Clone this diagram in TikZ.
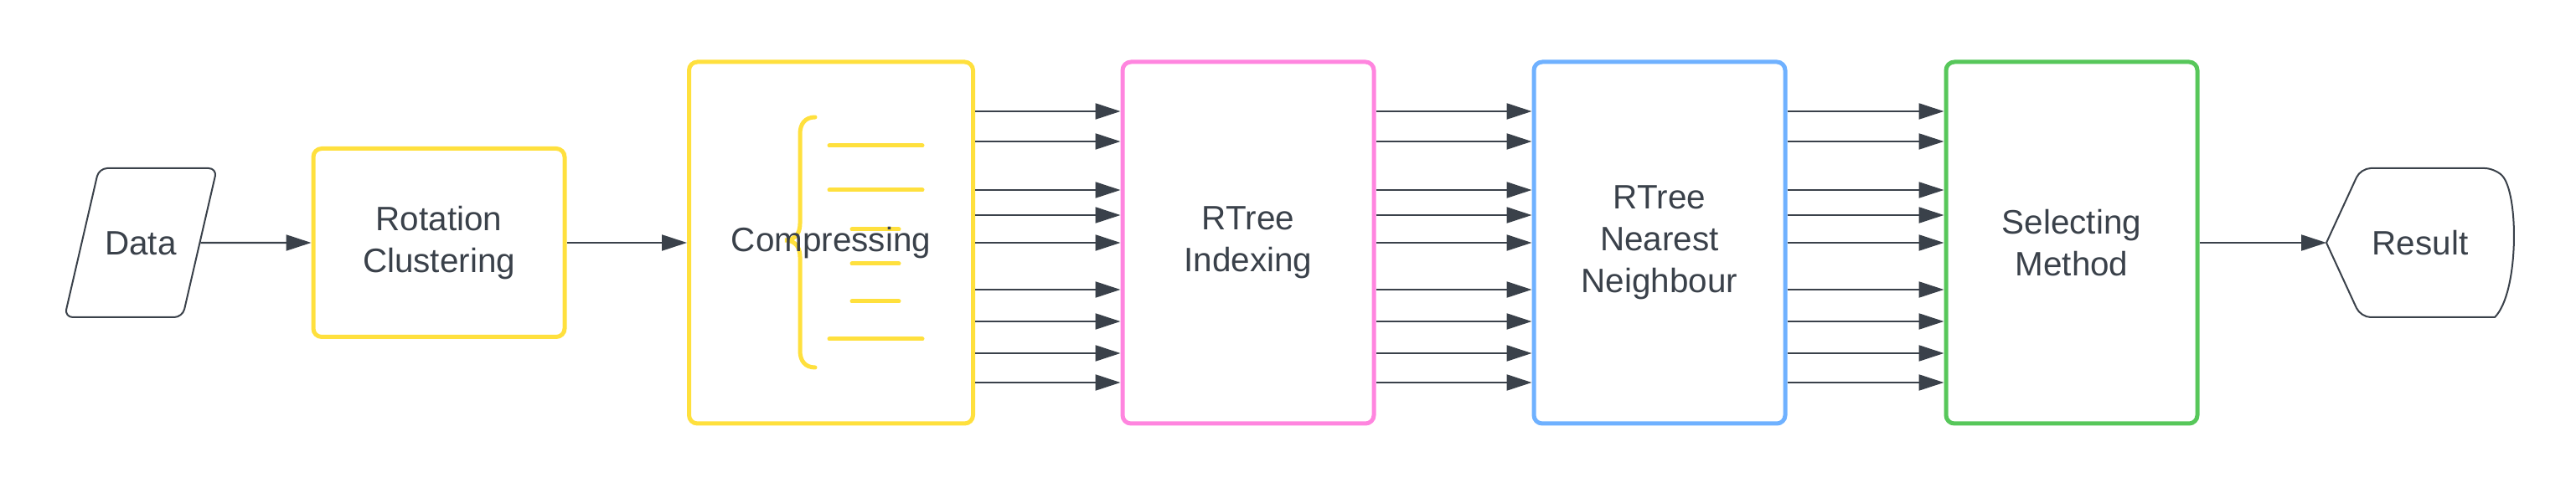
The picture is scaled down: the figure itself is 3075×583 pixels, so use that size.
\documentclass[tikz,border=0pt]{standalone}
\usepackage{fontspec}
\setmainfont{Liberation Sans}
\usetikzlibrary{arrows.meta,shapes.geometric}
\definecolor{ink}{HTML}{3A414A}
\definecolor{lyellow}{HTML}{FFE03D}
\definecolor{lpink}{HTML}{FF85DF}
\definecolor{lblue}{HTML}{6FB1FF}
\definecolor{lgreen}{HTML}{57C75A}
\tikzset{
	stage/.style={
			draw=#1, rounded corners=1mm, line width=0.5mm,
			minimum width=30mm, minimum height=43.2mm, align=center
		},
	flow/.style={draw=ink, line width=0.22mm, -{Triangle[length=3mm,width=1.9mm]}},
	deco/.style={draw=lyellow, line width=0.5mm, line cap=round}
}

\begin{document}
\begin{tikzpicture}[x=0.1mm, y=-0.1mm, font=\fontsize{11.5}{14.2}\selectfont, text=ink]
            \useasboundingbox (0,0) rectangle (3075,583);
            % brace and bars inside the compressing box
            \draw[deco] (973,140) .. controls (961,140) and (955,148) .. (955,160) -- (955,267)
                .. controls (955,280) and (948,287) .. (937,287)
                .. controls (948,287) and (955,294) .. (955,307) -- (955,419)
                .. controls (955,431) and (961,439) .. (973,439);
            \foreach \y in {174,227,405} \draw[deco] (990,\y) -- (1101,\y);
            \foreach \y in {274,315,360} \draw[deco] (1017,\y) -- (1073,\y);

            \node[trapezium, draw=ink, line width=0.2mm, rounded corners=1mm,
                trapezium left angle=77, trapezium right angle=103, trapezium stretches body,
                text height=3mm, text depth=0mm, inner ysep=7.4mm, inner xsep=0.7mm,
                minimum width=18.2mm] (data) at (168,290) {Data};
            \node[stage=lyellow, minimum height=22.5mm] (rot) at (524,290) {Rotation\\Clustering};
            \node[stage=lyellow, minimum width=33.9mm] (comp) at (992,290) {Compressing};
            \node[stage=lpink] (idx) at (1490,290) {RTree\\Indexing};
            \node[stage=lblue] (nn) at (1981,290) {RTree\\Nearest\\Neighbour};
            \node[stage=lgreen] (sel) at (2473,290) {Selecting\\Method};
            \node (res) at (2889,290) {Result};
            \coordinate (restip) at (2777,290);
            \draw[draw=ink, line width=0.2mm] (restip) [rounded corners=1.2mm] -- (2818,201) -- (2978,201)
                [sharp corners] .. controls (3007,230) and (3007,350) .. (2978,379)
                [rounded corners=1.2mm] -- (2818,379) [sharp corners] -- cycle;

            \draw[flow] (data.east) -- (rot.west);
            \draw[flow] (rot.east) -- (comp.west);
            \foreach \y in {133,169,227,257,290,346,384,422,457} {
                \draw[flow] (comp.east |- 0,\y) -- (idx.west |- 0,\y);
                \draw[flow] (idx.east |- 0,\y) -- (nn.west |- 0,\y);
                \draw[flow] (nn.east |- 0,\y) -- (sel.west |- 0,\y);
            }
            \draw[flow] (sel.east) -- (restip);
        \end{tikzpicture}
\end{document}
